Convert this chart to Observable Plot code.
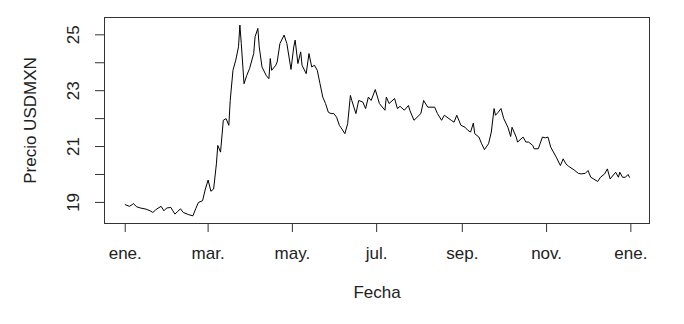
<!DOCTYPE html>
<html><head><meta charset="utf-8">
<script src="https://cdn.jsdelivr.net/npm/d3@7"></script>
<script src="https://cdn.jsdelivr.net/npm/@observablehq/plot@0.6"></script>
<style>html,body{margin:0;padding:0;background:#fff} svg{display:block}</style>
</head><body><div id="chart"></div>
<script>
const fechas = [
"2020-01-01","2020-01-04","2020-01-06","2020-01-07","2020-01-09","2020-01-12","2020-01-16","2020-01-19","2020-01-21","2020-01-23",
"2020-01-24","2020-01-27","2020-01-29","2020-01-31","2020-02-03","2020-02-06","2020-02-08","2020-02-10","2020-02-12","2020-02-16",
"2020-02-19","2020-02-21","2020-02-23","2020-02-26","2020-02-28","2020-03-01","2020-03-03","2020-03-05","2020-03-07","2020-03-08",
"2020-03-10","2020-03-12","2020-03-14","2020-03-16","2020-03-17","2020-03-19","2020-03-21","2020-03-23","2020-03-24","2020-03-25",
"2020-03-27","2020-03-29","2020-03-31","2020-04-03","2020-04-04","2020-04-06","2020-04-07","2020-04-09","2020-04-12","2020-04-14",
"2020-04-15","2020-04-16","2020-04-19","2020-04-20","2020-04-22","2020-04-25","2020-04-27","2020-04-30","2020-05-02","2020-05-03",
"2020-05-05","2020-05-07","2020-05-08","2020-05-11","2020-05-13","2020-05-15","2020-05-17","2020-05-19","2020-05-21","2020-05-23",
"2020-05-25","2020-05-27","2020-05-29","2020-05-31","2020-06-02","2020-06-04","2020-06-05","2020-06-08","2020-06-10","2020-06-12",
"2020-06-13","2020-06-16","2020-06-18","2020-06-21","2020-06-23","2020-06-25","2020-06-27","2020-06-30","2020-07-03","2020-07-07",
"2020-07-08","2020-07-10","2020-07-14","2020-07-16","2020-07-18","2020-07-21","2020-07-24","2020-07-25","2020-07-28","2020-08-02",
"2020-08-04","2020-08-07","2020-08-12","2020-08-14","2020-08-17","2020-08-19","2020-08-24","2020-08-26","2020-08-28","2020-08-31",
"2020-09-03","2020-09-05","2020-09-07","2020-09-09","2020-09-10","2020-09-13","2020-09-15","2020-09-17","2020-09-20","2020-09-22",
"2020-09-24","2020-09-25","2020-09-27","2020-09-29","2020-10-01","2020-10-04","2020-10-06","2020-10-07","2020-10-10","2020-10-11",
"2020-10-15","2020-10-17","2020-10-19","2020-10-22","2020-10-23","2020-10-26","2020-10-29","2020-10-31","2020-11-02","2020-11-04",
"2020-11-08","2020-11-11","2020-11-13","2020-11-15","2020-11-17","2020-11-21","2020-11-24","2020-11-26","2020-11-29","2020-12-01",
"2020-12-03","2020-12-05","2020-12-08","2020-12-10","2020-12-13","2020-12-15","2020-12-17","2020-12-20","2020-12-21","2020-12-23",
"2020-12-24","2020-12-26","2020-12-28","2020-12-30","2020-12-31"
];
const precios = [
18.92,18.86,18.92,18.96,18.85,18.80,18.76,18.70,18.64,18.73,
18.77,18.86,18.70,18.80,18.82,18.58,18.68,18.77,18.64,18.56,
18.52,18.77,19.00,19.06,19.48,19.80,19.40,19.48,20.38,21.04,
20.80,21.94,22.00,21.76,22.65,23.73,24.09,24.57,25.35,24.69,
23.25,23.55,23.79,24.33,24.93,25.23,24.57,23.85,23.55,23.43,
24.15,23.73,23.91,24.03,24.69,24.99,24.69,23.76,24.57,24.81,
23.97,24.39,23.91,23.61,24.33,23.85,23.91,23.73,23.25,22.77,
22.54,22.23,22.18,22.18,22.05,21.76,21.69,21.46,21.82,22.83,
22.65,22.18,22.65,22.59,22.36,22.77,22.65,23.04,22.54,22.30,
22.77,22.54,22.72,22.36,22.44,22.30,22.47,22.30,21.94,22.18,
22.65,22.41,22.41,22.18,21.94,22.12,21.94,21.87,22.12,21.76,
21.69,21.58,21.52,21.84,21.46,21.34,21.10,20.89,21.10,21.52,
22.36,22.12,22.23,22.36,22.00,21.69,21.36,21.69,21.34,21.16,
21.34,21.16,21.16,21.04,20.92,20.92,21.34,21.31,21.34,20.98,
20.62,20.32,20.56,20.38,20.29,20.16,20.04,20.02,20.04,20.14,
19.90,19.84,19.75,19.90,20.02,20.20,19.84,20.02,20.08,19.90,
20.08,19.90,19.90,20.00,19.90
];
const xTicks = ["2020-01-01","2020-03-01","2020-05-01","2020-07-01","2020-09-01","2020-11-01","2021-01-01"];
const xTickLabels = ["ene.","mar.","may.","jul.","sep.","nov.","ene."];
const yTicks = [19,20,21,22,23,24,25];
const yTickLabels = [19,21,23,25];
const xTitle = "Fecha";
const yTitle = "Precio USDMXN";

const toDate = s => new Date(s + "T00:00:00Z");
const data = fechas.map((f, i) => ({fecha: toDate(f), precio: precios[i]}));
const xTickDates = xTicks.map(toDate);
const labelFor = new Map(xTickDates.map((d, i) => [+d, xTickLabels[i]]));

const font = "'Liberation Sans', Arial, sans-serif";
const ink = "#222";

const chart = Plot.plot({
  width: 684,
  height: 324,
  marginLeft: 104,
  marginRight: 35,
  marginTop: 17,
  marginBottom: 101,
  style: {fontFamily: font, fontSize: "17px", color: ink, background: "#fff"},
  x: {type: "utc", domain: [toDate("2019-12-17"), new Date("2021-01-14T12:00:00Z")], label: null},
  y: {domain: [18.245, 25.62], label: null},
  marks: [
    Plot.frame({stroke: "#333", strokeWidth: 1}),
    Plot.axisX({ticks: xTickDates, tickSize: 9, tickPadding: 14, stroke: "#333",
      tickFormat: d => labelFor.get(+d), fontSize: 17, fill: ink, label: null}),
    Plot.axisY({ticks: yTicks, tickSize: 9, stroke: "#333", tickFormat: () => "", label: null}),
    Plot.text(yTickLabels, {y: d => d, text: d => String(d), frameAnchor: "left", dx: -31,
      rotate: -90, textAnchor: "middle", lineAnchor: "middle", fontSize: 17, fill: ink}),
    Plot.text([yTitle], {frameAnchor: "left", dx: -74, rotate: -90, textAnchor: "middle",
      lineAnchor: "middle", fontSize: 17, fill: ink}),
    Plot.text([xTitle], {frameAnchor: "bottom", dy: 74, fontSize: 17, fill: ink}),
    Plot.line(data, {x: "fecha", y: "precio", stroke: "#000", strokeWidth: 1})
  ]
});
document.getElementById("chart").appendChild(chart);
</script>
</body></html>
